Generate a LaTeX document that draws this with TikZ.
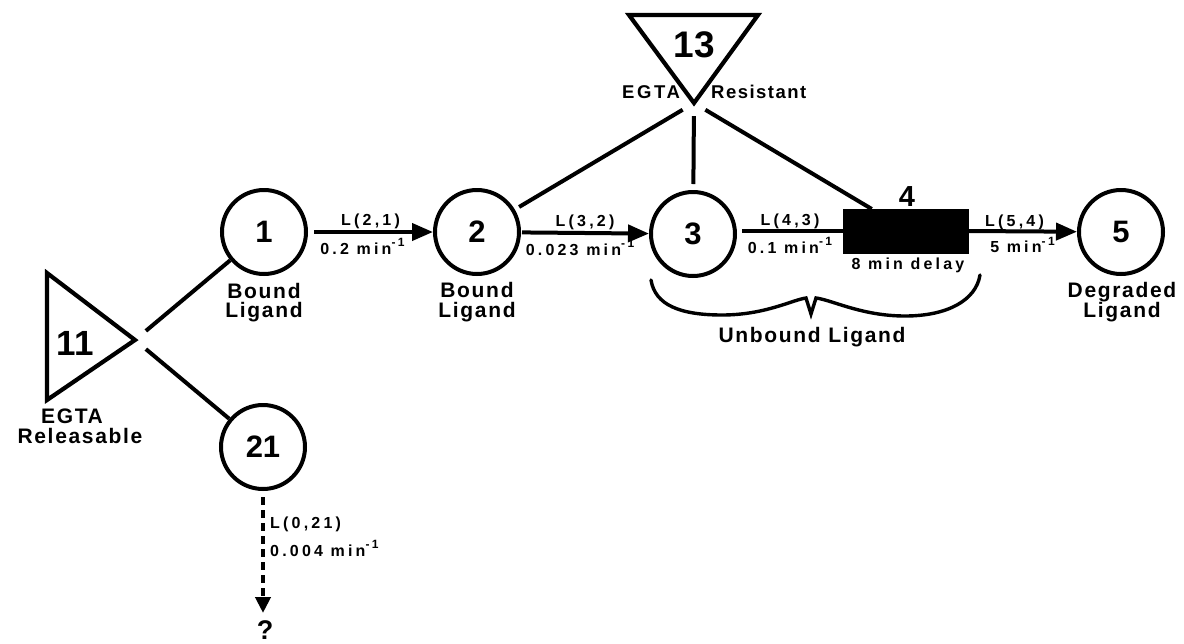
\documentclass[tikz,border=0pt]{standalone}
\usepackage{fontspec}
\setmainfont{Liberation Sans}
\newfontfamily\lblfont[LetterSpace=20]{Liberation Sans Bold}
\newfontfamily\txtfont[LetterSpace=8]{Liberation Sans Bold}
\newfontfamily\topfont[LetterSpace=14]{Liberation Sans Bold}
\newfontfamily\numfont{Liberation Sans Bold}
\usetikzlibrary{arrows.meta,calc}
\newcommand\fsz[1]{\fontsize{#1}{#1}\selectfont}
\newcommand\perminute{min\raisebox{0.45em}{\fsz{12}-1}}
\tikzset{
  pool/.style={circle, draw, line width=4pt, minimum size=84pt, inner sep=0pt,
    font=\numfont\fsz{31}},
  apex/.style={circle, minimum size=26pt, inner sep=0pt},
  rate/.style={font=\lblfont\fsz{16}, inner sep=0pt, anchor=base},
  caption/.style={font=\txtfont\fsz{21}, inner sep=0pt, anchor=base},
  link/.style={line width=4pt},
  flow/.style={line width=4pt, -{Triangle[length=21pt,width=17pt]}},
  pad/.style={draw, line width=4.2pt, line join=miter},
}
\begin{document}
\begin{tikzpicture}[x=1pt,y=-1pt]
\useasboundingbox (0,0) rectangle (1184,643);

% compartments
\node[pool] (n1) at (264,232) {1};
\node[pool] (n2) at (477,232) {2};
\node[pool] (n3) at (693,234) {3};
\node[pool] (n5) at (1121,232) {5};
\node[pool] (n21) at (263,447) {21};
\node[draw, fill=black, line width=0pt, minimum width=125pt, minimum height=44pt, inner sep=0pt] (blk) at (905.5,231) {};
\coordinate (blkin) at ($(blk.north west)!0.23!(blk.north east)$);

% EGTA pools (triangles)
\draw[pad] (629,15) -- (758,15) -- (694,103) -- cycle;
\node[apex] (ap13) at (694,103) {};
\node[font=\numfont\fsz{37}, inner sep=0pt, anchor=base] (t13) at (694,57) {13};
\node[caption, font=\topfont\fsz{18.5}] (egta13) at (651,98) {EGTA};
\node[caption, font=\txtfont\fsz{18.5}, anchor=base west] (res13) at (711,98) {Resistant};

\draw[pad] (47,273) -- (47,400) -- (135,340) -- cycle;
\node[apex, minimum size=28pt] (ap11) at (135,340) {};
\node[font=\numfont\fsz{35}, inner sep=0pt, anchor=base] (t11) at (75,355) {11};
\node[caption] (egta11) at (72,423) {EGTA};
\node[caption] (rel11) at (80,443) {Releasable};

% links from the EGTA pools
\draw[link] (ap11) -- (n1);
\draw[link] (ap11) -- (n21);
\draw[link, shorten >=5pt] (ap13) -- (n2);
\draw[link, shorten >=6pt] (ap13) -- (n3);
\draw[link] (ap13) -- (blkin);

% transfer arrows with rate constants
\draw[flow, shorten <=6pt] (n1) --
  node[rate, yshift=7pt] (l21) {L(2,1)}
  node[rate, yshift=-22pt, xshift=-8pt] (r21) {0.2 \perminute} (n2);
\draw[flow, shorten <=1pt] (n2) --
  node[rate, yshift=7pt] (l32) {L(3,2)}
  node[rate, yshift=-22pt, xshift=-5pt] (r32) {0.023 \perminute} (n3);
\draw[link, shorten <=5pt] (n3.east |- blk.west) --
  node[rate, yshift=6pt] (l43) {L(4,3)}
  node[rate, yshift=-22pt] (r43) {0.1 \perminute} (blk.west);
\draw[flow] (blk.east) --
  node[rate, yshift=5pt, xshift=-8pt] (l54) {L(5,4)}
  node[rate, yshift=-21pt] (r54) {5 \perminute} (n5);

% labels of the compartments
\node[font=\numfont\fsz{29}, inner sep=0pt, anchor=base] (t4) at (907,206) {4};
\node[rate, font=\lblfont\fsz{16}, anchor=base] (delay) at (908,269) {8 min delay};
\node[caption] (b1) at (264,298) {Bound};
\node[caption] (g1) at (264,317) {Ligand};
\node[caption] (b2) at (477,297) {Bound};
\node[caption] (g2) at (477,317) {Ligand};
\node[caption] (d5) at (1122,297) {Degraded};
\node[caption] (g5) at (1122,317) {Ligand};

% brace under the unbound pools
\draw[line width=3.4pt, line cap=round, line join=miter]
  (651,280) .. controls (655,305) and (680,315) .. (722,315)
  .. controls (765,315) and (792,300) .. (806,298) -- (811,314) -- (816,298)
  .. controls (832,300) and (862,316) .. (905,316)
  .. controls (948,316) and (976,300) .. (980,275);
\node[caption] (unb) at (812,342) {Unbound Ligand};

% loss from pool 21
\node[font=\numfont\fsz{27}, inner sep=0pt, anchor=base] (q) at (265,639) {?};
\coordinate (qtop) at (263,613);
\draw[line width=4pt, dash pattern=on 8pt off 5pt, -{Triangle[length=16pt,width=15pt]}, shorten <=6pt] (n21) -- (qtop);
\node[rate, anchor=base west] (l021) at (270,528) {L(0,21)};
\node[rate, anchor=base west] (r021) at (270,556) {0.004 \perminute};
\end{tikzpicture}
\end{document}
